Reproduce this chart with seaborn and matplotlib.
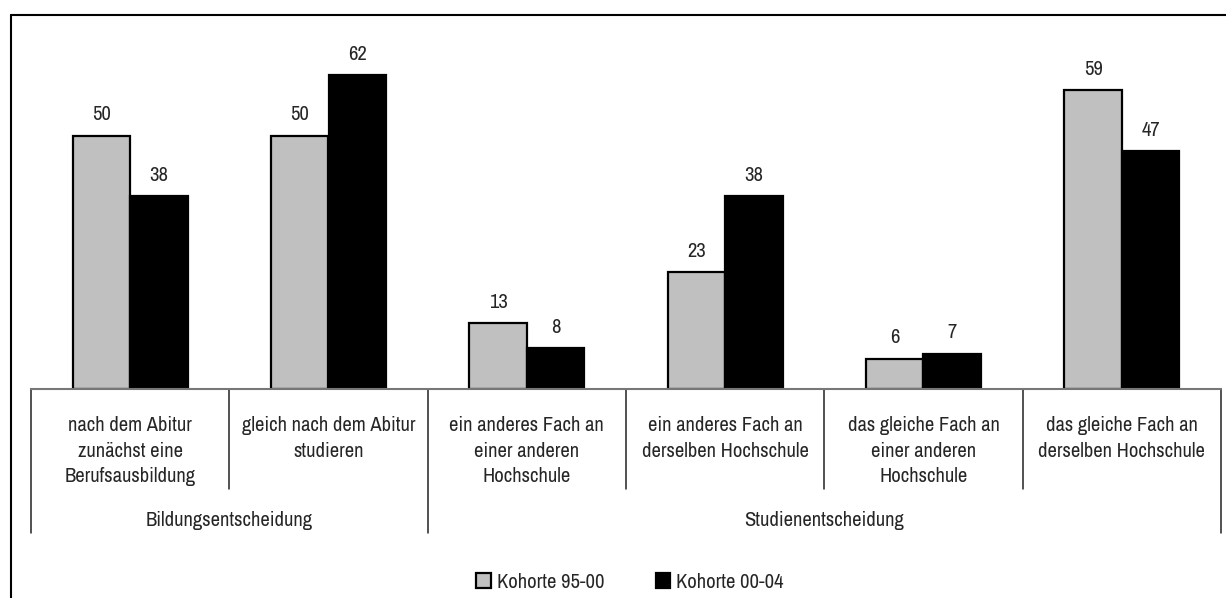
import pandas as pd
import matplotlib
matplotlib.use("Agg")
import matplotlib.pyplot as plt
from matplotlib import font_manager
from matplotlib.lines import Line2D
import seaborn as sns

# values
categories = [
    "nach dem Abitur\nzunächst eine\nBerufsausbildung",
    "gleich nach dem Abitur\nstudieren",
    "ein anderes Fach an\neiner anderen\nHochschule",
    "ein anderes Fach an\nderselben Hochschule",
    "das gleiche Fach an\neiner anderen\nHochschule",
    "das gleiche Fach an\nderselben Hochschule",
]
kohorte_95_00 = [50, 50, 13, 23, 6, 59]
kohorte_00_04 = [38, 62, 8, 38, 7, 47]
series_names = ["Kohorte 95-00", "Kohorte 00-04"]
groups = ["Bildungsentscheidung", "Studienentscheidung"]
group_spans = [(-0.5, 1.5), (1.5, 5.5)]

df = pd.DataFrame({
    "Kategorie": categories * 2,
    "Wert": kohorte_95_00 + kohorte_00_04,
    "Kohorte": [series_names[0]] * 6 + [series_names[1]] * 6,
})

sns.set_style("white")

# look for a narrow font (the original uses Arial Narrow)
names = sorted({f.name for f in font_manager.fontManager.ttflist})
narrow = [n for n in names if "Narrow" in n or "Condensed" in n]
if narrow:
    plt.rcParams["font.family"] = [narrow[0], "DejaVu Sans"]
    FS = 14.8
else:
    plt.rcParams["font.family"] = ["Liberation Sans", "DejaVu Sans"]
    FS = 12.5

W, H = 1226, 598
fig = plt.figure(figsize=(W / 100, H / 100), dpi=100)
ax = fig.add_axes([31 / W, (H - 389) / H, (1221 - 31) / W, (389 - 16) / H])

sns.barplot(data=df, x="Kategorie", y="Wert", hue="Kohorte",
            palette=["#c0c0c0", "#000000"], width=0.58,
            edgecolor="black", linewidth=1.6, ax=ax)

for cont in ax.containers:
    ax.bar_label(cont, padding=8, fontsize=FS)

ax.set_ylim(0, 73.6)
ax.set_xlim(-0.5, 5.5)
ax.set_xlabel("")
ax.set_ylabel("")
ax.set_yticks([])
ax.set_xticks([])
for s in ["left", "right", "top"]:
    ax.spines[s].set_visible(False)
ax.spines["bottom"].set_color("#777777")
ax.spines["bottom"].set_linewidth(1.5)

trans = ax.get_xaxis_transform()
hpx = 389 - 16

# category labels
for i, lab in enumerate(categories):
    ax.text(i, -27 / hpx, lab, transform=trans, ha="center", va="top",
            fontsize=FS, linespacing=1.45)

# separator lines below the axis
short_seps = [0.5, 2.5, 3.5, 4.5]
long_seps = [-0.5, 1.5, 5.5]
for xs in short_seps:
    ax.plot([xs, xs], [0, -100 / hpx], transform=trans, color="#222222",
            lw=1.1, clip_on=False)
for xs in long_seps:
    ax.plot([xs, xs], [0, -144 / hpx], transform=trans, color="#222222",
            lw=1.1, clip_on=False)

# group labels
for g, (a, b) in zip(groups, group_spans):
    ax.text((a + b) / 2, -131 / hpx, g, transform=trans, ha="center",
            va="center", fontsize=FS)

# legend
handles, labels = ax.get_legend_handles_labels()
ax.get_legend().remove()
fig.legend(handles, labels, loc="center", bbox_to_anchor=(630 / W, (H - 582) / H),
           ncol=2, frameon=False, fontsize=FS, handlelength=0.7, handleheight=0.7,
           handletextpad=0.3, columnspacing=2.5)

# outer frame (top and left visible)
fy = (H - 15) / H
fx = 11 / W
fig.add_artist(Line2D([fx, 1.0], [fy, fy], transform=fig.transFigure,
                      color="black", lw=1.5))
fig.add_artist(Line2D([fx, fx], [0, fy], transform=fig.transFigure,
                      color="black", lw=1.5))

fig.savefig("out.png", dpi=100)
